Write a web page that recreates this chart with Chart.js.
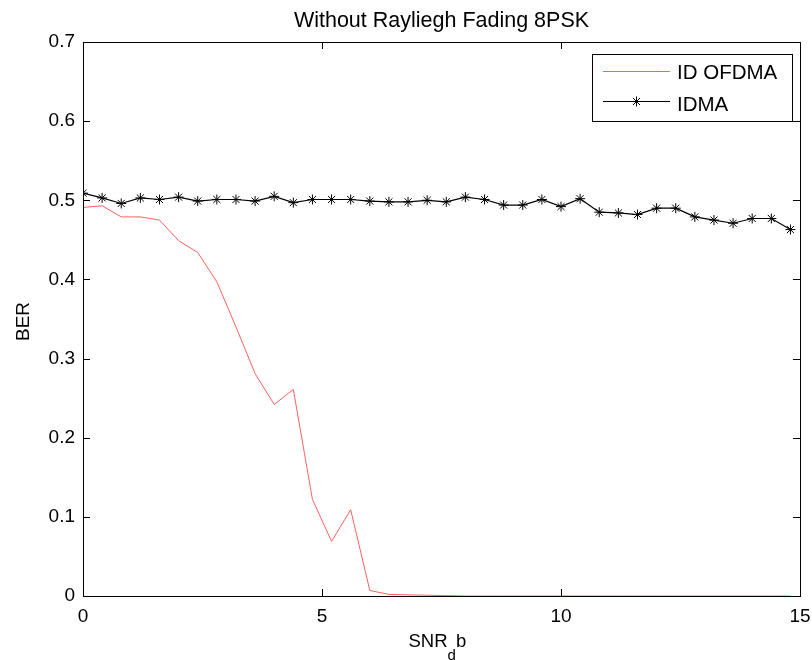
<!DOCTYPE html>
<html><head><meta charset="utf-8">
<script src="https://cdn.jsdelivr.net/npm/chart.js@4.4.0/dist/chart.umd.min.js"></script>
<style>html,body{margin:0;padding:0;background:#fff}#wrap{width:812px;height:660px}</style>
</head><body><div id="wrap"><canvas id="c" width="812" height="660"></canvas></div>
<script>
const snr = [0,0.4,0.8,1.2,1.6,2.0,2.4,2.8,3.2,3.6,4.0,4.4,4.8,5.2,5.6,6.0,6.4,6.8,7.2,7.6,8.0,8.4,8.8,9.2,9.6,10.0,10.4,10.8,11.2,11.6,12.0,12.4,12.8,13.2,13.6,14.0,14.4,14.8];
const idOfdma = [0.491,0.493,0.479,0.479,0.475,0.449,0.434,0.397,0.340,0.281,0.242,0.261,0.122,0.069,0.109,0.007,0.002,0.0015,0.001,0.0005,0,0,0,0,0,0,0,0,0,0,0,0,0,0,0,0,0,0];
const idma = [0.509,0.503,0.496,0.503,0.501,0.504,0.499,0.501,0.501,0.499,0.505,0.497,0.501,0.501,0.501,0.499,0.498,0.498,0.500,0.498,0.504,0.501,0.494,0.494,0.501,0.492,0.502,0.485,0.484,0.482,0.490,0.490,0.479,0.475,0.471,0.477,0.477,0.463];
const xTicks = [0,5,10,15];
const yTicks = [0,0.1,0.2,0.3,0.4,0.5,0.6,0.7];
const seriesNames = ['ID OFDMA','IDMA'];
const titleText = 'Without Rayliegh Fading 8PSK';
const yTitle = 'BER';

const FONT = "'Liberation Sans', Arial, sans-serif";
const RED = '#ff6060';

const decor = {
  id: 'decor',
  afterDatasetsDraw(chart) {
    const ctx = chart.ctx, a = chart.chartArea;
    const xs = chart.scales.x, ys = chart.scales.y;
    ctx.save();
    // box
    ctx.strokeStyle = '#000'; ctx.lineWidth = 1;
    ctx.strokeRect(Math.round(a.left)+0.5, Math.round(a.top)+0.5, Math.round(a.right-a.left), Math.round(a.bottom-a.top));
    // inner ticks
    const tl = 7;
    ctx.beginPath();
    xTicks.forEach(v => {
      const px = Math.round(xs.getPixelForValue(v)) + 0.5;
      ctx.moveTo(px, a.bottom); ctx.lineTo(px, a.bottom - tl);
      ctx.moveTo(px, a.top); ctx.lineTo(px, a.top + tl);
    });
    yTicks.forEach(v => {
      const py = Math.round(ys.getPixelForValue(v)) + 0.5;
      ctx.moveTo(a.left, py); ctx.lineTo(a.left + tl, py);
      ctx.moveTo(a.right, py); ctx.lineTo(a.right - tl, py);
    });
    ctx.stroke();
    // title
    ctx.fillStyle = '#000';
    ctx.font = '21.5px ' + FONT;
    ctx.textAlign = 'center'; ctx.textBaseline = 'alphabetic';
    ctx.fillText(titleText, (a.left + a.right) / 2, 27);
    // y title
    ctx.save();
    ctx.translate(28.5, 321.5);
    ctx.rotate(-Math.PI / 2);
    ctx.font = '19px ' + FONT;
    ctx.fillText(yTitle, 0, 0);
    ctx.restore();
    // x title SNR_d b
    ctx.textAlign = 'left';
    let x0 = 408.5;
    ctx.font = '18.5px ' + FONT;
    ctx.fillText('SNR', x0, 646.5);
    x0 += ctx.measureText('SNR').width;
    ctx.font = '15px ' + FONT;
    ctx.fillText('d', x0, 660);
    x0 += ctx.measureText('d').width;
    ctx.font = '18.5px ' + FONT;
    ctx.fillText('b', x0, 646.5);
    // legend
    const bx = 592, by = 54, bw = 200, bh = 67;
    ctx.fillStyle = '#fff';
    ctx.fillRect(bx, by, bw, bh);
    ctx.strokeStyle = '#000';
    ctx.strokeRect(bx + 0.5, by + 0.5, bw, bh);
    ctx.lineWidth = 1;
    ctx.strokeStyle = RED;
    ctx.beginPath(); ctx.moveTo(603, 71.5); ctx.lineTo(670, 71.5); ctx.stroke();
    ctx.strokeStyle = '#000';
    ctx.beginPath(); ctx.moveTo(603, 101.5); ctx.lineTo(670, 101.5); ctx.stroke();
    Chart.helpers.drawPoint(ctx, {pointStyle: 'star', radius: 5, rotation: 0, borderWidth: 1}, 636.5, 101.5);
    ctx.fillStyle = '#000';
    ctx.font = '20.5px ' + FONT;
    ctx.textBaseline = 'middle';
    ctx.fillText(seriesNames[0], 677, 73.5);
    ctx.fillText(seriesNames[1], 677, 105);
    ctx.restore();
  }
};

new Chart(document.getElementById('c'), {
  type: 'line',
  data: {
    datasets: [
      {
        label: seriesNames[0],
        data: snr.map((x, i) => ({x, y: idOfdma[i]})),
        borderColor: RED, backgroundColor: RED,
        borderWidth: 1, pointRadius: 0, tension: 0, fill: false
      },
      {
        label: seriesNames[1],
        data: snr.map((x, i) => ({x, y: idma[i]})),
        borderColor: '#000', backgroundColor: '#000',
        borderWidth: 1.2, pointStyle: 'star', pointRadius: 5,
        pointBorderWidth: 1, pointBorderColor: '#000', tension: 0, fill: false
      }
    ]
  },
  options: {
    responsive: false,
    animation: false,
    devicePixelRatio: 1,
    layout: { padding: { left: 0, right: 12, top: 42, bottom: 0 } },
    plugins: { legend: { display: false }, title: { display: false }, tooltip: { enabled: false } },
    scales: {
      x: {
        type: 'linear', min: 0, max: 15,
        afterBuildTicks: s => { s.ticks = xTicks.map(v => ({value: v})); },
        afterFit: s => { s.height = 64; s.paddingLeft = 0; s.paddingRight = 0; },
        grid: { display: false, drawTicks: false },
        border: { display: false },
        ticks: { color: '#000', font: { family: FONT, size: 19 }, padding: 9, maxRotation: 0,
                 callback: v => String(v) }
      },
      y: {
        type: 'linear', min: 0, max: 0.7,
        afterBuildTicks: s => { s.ticks = yTicks.map(v => ({value: v})); },
        afterFit: s => { s.width = 83; s.paddingTop = 0; s.paddingBottom = 0; },
        grid: { display: false, drawTicks: false },
        border: { display: false },
        ticks: { color: '#000', font: { family: FONT, size: 19 }, padding: 8,
                 callback: v => (v === 0 ? '0' : Number(v).toFixed(1)) }
      }
    }
  },
  plugins: [decor]
});
</script>
</body></html>
